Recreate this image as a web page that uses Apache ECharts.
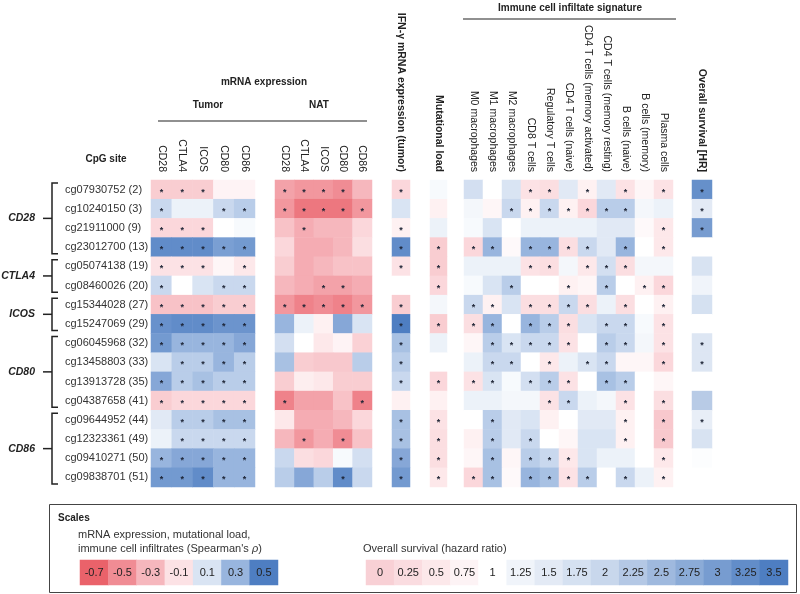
<!DOCTYPE html>
<html><head><meta charset="utf-8">
<script src="https://cdn.jsdelivr.net/npm/echarts@6/dist/echarts.min.js"></script>
<style>html,body{margin:0;padding:0;background:#fff}#c{width:800px;height:594px}</style>
</head><body><div id="c"></div>
<script>
const FONT = '"Liberation Sans", Arial, Helvetica, sans-serif';
const rows = ['cg07930752 (2)','cg10240150 (3)','cg21911000 (9)','cg23012700 (13)','cg05074138 (19)','cg08460026 (20)','cg15344028 (27)','cg15247069 (29)','cg06045968 (32)','cg13458803 (33)','cg13913728 (35)','cg04387658 (41)','cg09644952 (44)','cg12323361 (49)','cg09410271 (50)','cg09838701 (51)'];
const groups = [['CD28',0,3],['CTLA4',4,5],['ICOS',6,7],['CD80',8,11],['CD86',12,15]];
const genes = ['CD28','CTLA4','ICOS','CD80','CD86'];
const immuneCells = ['M0 macrophages','M1 macrophages','M2 macrophages','CD8 T cells','Regulatory T cells','CD4 T cells (naive)','CD4 T cells (memory activated)','CD4 T cells (memory resting)','B cells (naive)','B cells (memory)','Plasma cells'];

const tumorRho = [
[-0.2,-0.2,-0.2,-0.04,-0.04],[0.15,0.05,0.05,0.15,0.2],[-0.15,-0.15,-0.15,0.0,0.02],[0.45,0.45,0.45,0.38,0.4],
[-0.1,-0.1,-0.1,-0.03,-0.08],[0.15,0.0,0.1,0.15,0.15],[-0.25,-0.25,-0.25,-0.2,-0.2],[0.43,0.45,0.45,0.42,0.42],
[0.4,0.3,0.3,0.3,0.35],[0.1,0.2,0.2,0.3,0.2],[0.35,0.2,0.25,0.2,0.2],[-0.2,-0.15,-0.15,-0.15,-0.15],
[0.08,0.2,0.2,0.25,0.25],[0.05,0.15,0.15,0.15,0.15],[0.3,0.35,0.35,0.3,0.3],[0.4,0.4,0.45,0.3,0.3]];
const tumorSig = [
[1,1,1,0,0],[1,0,0,1,1],[1,1,1,0,0],[1,1,1,1,1],[1,1,1,0,1],[1,0,0,1,1],[1,1,1,1,1],[1,1,1,1,1],
[1,1,1,1,1],[0,1,1,1,1],[1,1,1,1,1],[1,1,1,1,1],[0,1,1,1,1],[0,1,1,1,1],[1,1,1,1,1],[1,1,1,1,1]];
const natRho = [
[-0.4,-0.45,-0.45,-0.5,-0.3],[-0.45,-0.6,-0.6,-0.6,-0.45],[-0.25,-0.35,-0.3,-0.3,-0.15],[-0.15,-0.35,-0.35,-0.3,-0.12],
[-0.2,-0.35,-0.3,-0.25,-0.25],[-0.3,-0.35,-0.4,-0.4,-0.35],[-0.45,-0.55,-0.5,-0.55,-0.45],[0.3,0.05,-0.05,0.35,0.1],
[0.12,0.0,-0.08,-0.04,-0.18],[0.25,-0.2,-0.22,-0.22,0.2],[-0.2,-0.06,-0.08,-0.2,-0.2],[-0.55,-0.4,-0.4,-0.25,-0.55],
[-0.08,-0.35,-0.35,-0.3,-0.15],[-0.3,-0.45,-0.35,-0.5,-0.25],[0.15,-0.12,-0.15,0.02,0.12],[0.2,0.35,0.2,0.45,0.15]];
const natSig = [
[1,1,1,1,0],[1,1,1,1,1],[0,1,0,0,0],[0,0,0,0,0],[0,0,0,0,0],[0,0,1,1,0],[1,1,1,1,1],[0,0,0,0,0],
[0,0,0,0,0],[0,0,0,0,0],[0,0,0,0,0],[1,0,0,0,1],[0,0,0,0,0],[0,1,0,1,0],[0,0,0,0,0],[0,0,0,1,0]];
const ifnRho = [-0.15,0.1,-0.05,0.45,-0.1,0.0,-0.2,0.5,0.25,0.2,0.15,-0.05,0.25,0.25,0.35,0.4];
const ifnSig = [1,0,1,1,1,0,1,1,1,1,1,0,1,1,1,1];
const mutRho = [0.02,-0.05,0.05,-0.2,-0.2,-0.15,0.03,-0.2,0.05,0.0,-0.15,-0.05,-0.1,-0.12,-0.12,-0.08];
const mutSig = [0,0,0,1,1,1,0,1,0,0,1,0,1,1,1,1];
const immRho = [
[0.12,0.0,0.1,-0.1,-0.12,0.08,-0.05,0.08,-0.1,-0.03,-0.1],
[0.03,-0.03,0.15,-0.05,0.15,-0.05,-0.15,0.2,0.2,0.03,0.05],
[0.02,0.1,0.0,0.05,0.05,0.05,0.05,0.08,0.08,-0.02,-0.08],
[-0.15,0.3,-0.02,0.3,0.3,-0.12,0.15,0.08,0.3,0.0,-0.08],
[0.05,0.05,0.05,-0.1,-0.12,0.03,-0.08,0.12,-0.12,0.03,0.03],
[0.02,0.1,0.2,0.0,0.0,-0.05,-0.03,0.2,0.0,-0.05,-0.15],
[0.15,-0.05,0.1,-0.12,-0.12,0.15,-0.12,0.05,-0.12,0.0,-0.05],
[-0.12,0.3,0.0,0.3,0.2,-0.12,0.1,0.15,0.15,0.02,-0.1],
[-0.03,0.2,0.1,0.15,0.15,-0.1,0.0,0.2,0.15,0.03,-0.1],
[0.05,0.15,0.15,0.0,-0.08,0.05,0.1,0.15,-0.03,-0.03,-0.15],
[-0.1,0.1,0.02,0.12,0.2,-0.1,0.0,0.25,0.2,0.0,-0.03],
[0.05,0.05,0.03,0.03,-0.1,0.15,0.05,0.03,-0.1,0.0,-0.12],
[0.0,0.2,0.08,0.1,-0.05,0.0,0.08,0.08,-0.05,0.0,-0.22],
[-0.05,0.2,0.08,0.15,0.0,-0.03,0.1,0.1,-0.05,0.0,-0.22],
[-0.03,0.25,-0.03,0.2,0.15,-0.08,0.1,0.05,0.05,0.0,-0.08],
[-0.15,0.25,-0.02,0.3,0.25,-0.1,0.2,0.0,0.15,0.05,-0.05]];
const immSig = [
[0,0,0,1,1,0,1,0,1,0,1],[0,0,1,1,1,1,1,1,1,0,0],[0,0,0,0,0,0,0,0,0,0,1],[1,1,0,1,1,1,1,0,1,0,1],
[0,0,0,1,1,0,1,1,1,0,0],[0,0,1,0,0,1,0,1,0,1,1],[1,1,0,1,1,1,1,0,1,0,1],[1,1,0,1,1,1,0,1,1,0,1],
[0,1,1,1,1,1,0,1,1,0,1],[0,1,1,0,1,0,1,1,0,0,1],[1,1,0,1,1,1,0,1,1,0,0],[0,0,0,0,1,1,0,0,1,0,1],
[0,1,0,0,0,0,0,0,1,0,1],[0,1,0,1,0,0,0,0,1,0,1],[0,1,0,1,1,1,0,0,0,0,1],[1,1,0,1,1,1,1,0,1,0,1]];
const osHR = [3.2,1.5,3.0,1.0,1.7,1.25,1.75,1.0,1.6,1.6,1.0,2.2,1.4,1.7,1.05,1.0];
const osSig = [1,1,1,0,0,0,0,0,1,1,0,0,1,0,0,0];
const rhoLegend = [-0.7,-0.5,-0.3,-0.1,0.1,0.3,0.5];
const hrLegend = [0,0.25,0.5,0.75,1,1.25,1.5,1.75,2,2.25,2.5,2.75,3,3.25,3.5];

const rhoStops = [[-0.7,[234,98,106]],[-0.5,[240,140,148]],[-0.3,[246,183,189]],[-0.1,[252,226,229]],[0,[255,255,255]],[0.1,[217,228,243]],[0.3,[152,181,222]],[0.5,[78,126,194]],[0.7,[50,100,180]]];
const hrStops = [[0,[248,208,213]],[1,[255,255,255]],[1.25,[240,244,250]],[2,[200,215,236]],[3.5,[78,126,194]]];
function interp(stops, v){
  if (v <= stops[0][0]) return rgb(stops[0][1]);
  for (let i=1;i<stops.length;i++){
    if (v <= stops[i][0]){
      const [a,ca]=stops[i-1],[b,cb]=stops[i];const t=(v-a)/(b-a);
      return rgb(ca.map((x,k)=>x+(cb[k]-x)*t));
    }
  }
  return rgb(stops[stops.length-1][1]);
}
function rgb(c){return 'rgb('+c.map(Math.round).join(',')+')';}
const rhoColor = v=>interp(rhoStops,v), hrColor = v=>interp(hrStops,v);

function matData(vals, sig, colFn){
  const d=[];
  vals.forEach((row,r)=>row.forEach((v,c)=>d.push({value:[c,r,v],itemStyle:{color:colFn(v)},label:{show:!!sig[r][c]}})));
  return d;
}
const col = (a)=>a.map(v=>[v]);

const TOP=180, H=307, RH=H/rows.length;
const blocks = [
  {left:151,width:104,cols:genes,data:matData(tumorRho,tumorSig,rhoColor),bold:false},
  {left:275,width:97,cols:genes,data:matData(natRho,natSig,rhoColor),bold:false},
  {left:392,width:18,cols:['IFN-γ mRNA expression (tumor)'],data:matData(col(ifnRho),col(ifnSig),rhoColor),bold:true},
  {left:430,width:17,cols:['Mutational load'],data:matData(col(mutRho),col(mutSig),rhoColor),bold:true},
  {left:464,width:209,cols:immuneCells,data:matData(immRho,immSig,rhoColor),bold:false},
  {left:692,width:20,cols:['Overall survival [HR]'],data:matData(col(osHR),col(osSig),hrColor),bold:true}
];
const grid=[],xAxis=[],yAxis=[],series=[];
blocks.forEach((b,i)=>{
  grid.push({left:b.left,top:TOP,width:b.width,height:H});
  xAxis.push({gridIndex:i,type:'category',data:b.cols,position:'top',axisLine:{show:false},axisTick:{show:false},
    axisLabel:{rotate:90,margin:8,fontSize:10.5,fontFamily:FONT,color:'#222',fontWeight:b.bold?'bold':'normal',interval:0}});
  yAxis.push({gridIndex:i,type:'category',data:rows,inverse:true,axisLine:{show:false},axisTick:{show:false},
    axisLabel:{show:i===0,align:'left',margin:86,fontSize:11,fontFamily:FONT,color:'#333',interval:0}});
  series.push({type:'heatmap',xAxisIndex:i,yAxisIndex:i,data:b.data,itemStyle:{borderWidth:0},
    label:{show:false,formatter:'*',fontSize:9,fontWeight:'bold',color:'#1b2233',offset:[0,2.5],fontFamily:FONT},emphasis:{disabled:true}});
});
// legends
const legends=[
  {left:80,width:198,vals:rhoLegend,fn:rhoColor},
  {left:366,width:422,vals:hrLegend,fn:hrColor}
];
legends.forEach((L,j)=>{
  const i=blocks.length+j;
  grid.push({left:L.left,top:560,width:L.width,height:25});
  xAxis.push({gridIndex:i,type:'category',data:L.vals.map(String),show:false});
  yAxis.push({gridIndex:i,type:'category',data:['s'],show:false});
  series.push({type:'heatmap',xAxisIndex:i,yAxisIndex:i,
    data:L.vals.map((v,k)=>({value:[k,0,v],itemStyle:{color:L.fn(v)}})),
    label:{show:true,formatter:p=>String(L.vals[p.value[0]]),fontSize:11,color:'#222',fontFamily:FONT},emphasis:{disabled:true}});
});

const g=[];
const txt=(x,y,t,o={})=>g.push({type:'text',x,y,silent:true,style:Object.assign({text:t,fill:'#222',font:(o.font||'bold 10px')+' '+FONT,align:o.align||'center',verticalAlign:'middle'},o.style||{})});
const ln=(x1,y1,x2,y2,w)=>g.push({type:'line',silent:true,shape:{x1,y1,x2,y2},style:{stroke:'#222',lineWidth:w||1.2}});
txt(106,159,'CpG site',{font:'bold 10px'});
txt(264,82,'mRNA expression',{font:'bold 10px'});
txt(208,105,'Tumor',{font:'bold 10px'});
txt(319,105,'NAT',{font:'bold 10px'});
ln(158,121,367,121,1.2);
txt(570,8,'Immune cell infiltate signature',{font:'bold 10px'});
ln(463,19,676,19,1.2);
groups.forEach(([name,s,e])=>{
  const y1=TOP+s*RH+3, y2=TOP+(e+1)*RH-3, ym=(y1+y2)/2;
  g.push({type:'polyline',silent:true,shape:{points:[[58,y1],[52,y1],[52,y2],[58,y2]]},style:{stroke:'#222',lineWidth:1.5,fill:null}});
  ln(43,ym,52,ym,1.5);
  txt(35,ym,name,{font:'italic bold 10.5px',align:'right'});
});
g.push({type:'rect',silent:true,shape:{x:49.5,y:504.5,width:747,height:88},style:{fill:'none',stroke:'#444',lineWidth:1}});
txt(58,518,'Scales',{font:'bold 10px',align:'left'});
txt(78,535,'mRNA expression, mutational load,',{font:'11px',align:'left',style:{fill:'#333'}});
g.push({type:'text',x:78,y:549,silent:true,style:{text:"immune cell infiltrates (Spearman's {i|ρ})",font:'11px '+FONT,fill:'#333',align:'left',verticalAlign:'middle',rich:{i:{fontStyle:'italic',fontSize:11,fontFamily:FONT,fill:'#333'}}}});
txt(363,549,'Overall survival (hazard ratio)',{font:'11px',align:'left',style:{fill:'#333'}});

const chart=echarts.init(document.getElementById('c'),null,{renderer:'canvas'});
chart.setOption({animation:false,backgroundColor:'#fff',grid,xAxis,yAxis,series,graphic:g});
</script></body></html>
